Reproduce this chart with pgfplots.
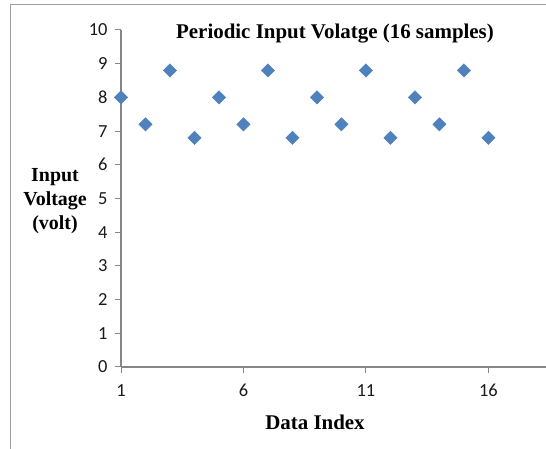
\documentclass[border=0pt]{standalone}
\usepackage{fontspec}
\setmainfont{Liberation Serif}
\newfontfamily\calibri{Carlito}
\usepackage{pgfplots}
\pgfplotsset{compat=1.18}
\definecolor{exblue}{HTML}{4F81BD}
\definecolor{axgray}{HTML}{868686}
\begin{document}
\begin{tikzpicture}[x=1bp,y=1bp]
\useasboundingbox (0,0) rectangle (546,449);
\draw[color=axgray!80, line width=1bp] (10.5,0) -- (10.5,444.5) -- (546,444.5);
\begin{axis}[
  at={(121bp,82bp)}, anchor=south west,
  scale only axis, width=425bp, height=337bp,
  xmin=1, xmax=18.35, ymin=0, ymax=10,
  axis x line*=bottom, axis y line*=left,
  axis line style={color=axgray, line width=1.2bp},
  xtick={1,6,11,16}, ytick={0,1,...,10},
  xticklabels={1,6,11,16}, yticklabels={0,1,2,3,4,5,6,7,8,9,10},
  tick align=outside, major tick length=6bp,
  tick style={color=axgray, line width=1bp},
  /pgf/number format/assume math mode=true,
  every tick label/.append style={font=\fontsize{18.5}{20}\selectfont\calibri, text=black!90},
  xticklabel style={yshift=-8bp},
  yticklabel style={xshift=-4bp},
  clip=false,
]
\addplot[only marks, mark=square*, mark size=4.7bp, color=exblue,
  every mark/.append style={rotate=45}] coordinates {
(1,8) (2,7.2) (3,8.8) (4,6.8) (5,8) (6,7.2) (7,8.8) (8,6.8)
(9,8) (10,7.2) (11,8.8) (12,6.8) (13,8) (14,7.2) (15,8.8) (16,6.8)};
\end{axis}
\node[font=\fontsize{21}{24}\bfseries\selectfont] at (335,415) {Periodic Input Volatge (16 samples)};
\node[font=\fontsize{20}{24}\bfseries\selectfont, align=center] at (55,248) {Input\\Voltage\\(volt)};
\node[font=\fontsize{21}{24}\bfseries\selectfont] at (315,27) {Data Index};
\end{tikzpicture}
\end{document}
